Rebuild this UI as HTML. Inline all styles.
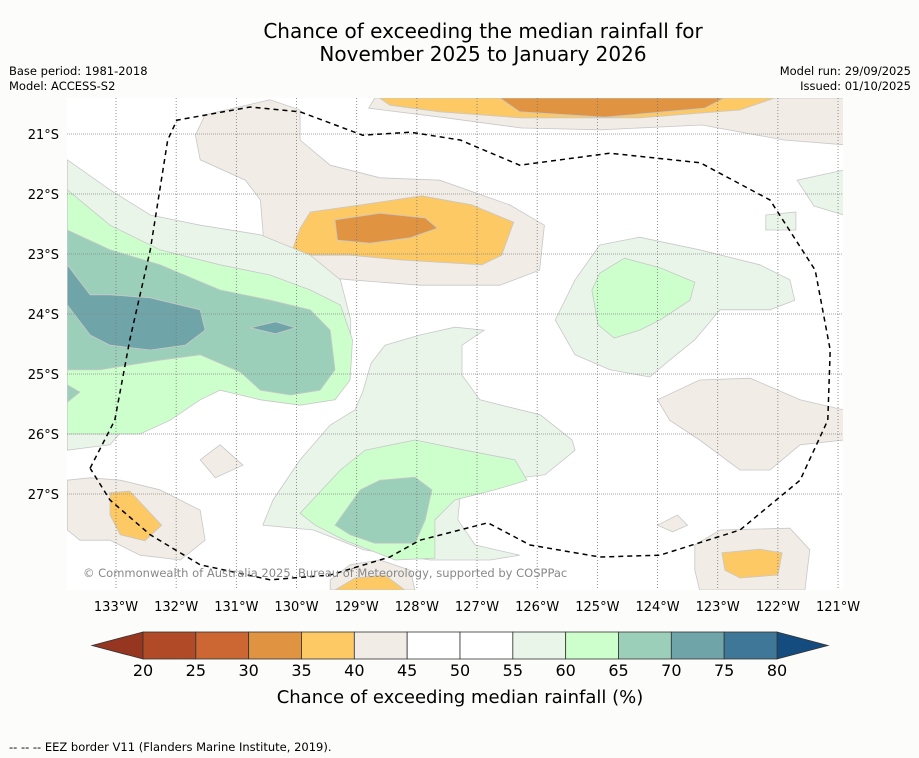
<!DOCTYPE html>
<html><head><meta charset="utf-8"><style>
body{margin:0;background:#fcfdfb;font-family:"DejaVu Sans",sans-serif;}
svg{display:block}
</style></head><body>
<svg id="chart" width="919" height="758" xmlns="http://www.w3.org/2000/svg" font-family="DejaVu Sans, sans-serif">
<rect width="919" height="758" fill="#fcfdfb"/>
<text x="483" y="38" font-size="20" text-anchor="middle">Chance of exceeding the median rainfall for</text>
<text x="483" y="61" font-size="20" text-anchor="middle">November 2025 to January 2026</text>
<text x="9" y="75" font-size="11.5">Base period: 1981-2018</text>
<text x="9" y="90" font-size="11.5">Model: ACCESS-S2</text>
<text x="911" y="75" font-size="11.5" text-anchor="end">Model run: 29/09/2025</text>
<text x="911" y="90" font-size="11.5" text-anchor="end">Issued: 01/10/2025</text>
<defs><clipPath id="mc"><rect x="67" y="98" width="776" height="492"/></clipPath></defs>
<rect x="67" y="98" width="776" height="492" fill="#ffffff"/>
<g id="contours" clip-path="url(#mc)"></g>
<g id="grid" clip-path="url(#mc)"></g>
<path id="eez" fill="none" stroke="#000" stroke-width="1.5" stroke-dasharray="5,4" clip-path="url(#mc)"/>
<text x="83" y="577" font-size="11.5" fill="#888">© Commonwealth of Australia 2025, Bureau of Meteorology, supported by COSPPac</text>
<g id="axes"></g>
<g id="colorbar"></g>
<text x="460" y="703" font-size="18" text-anchor="middle">Chance of exceeding median rainfall (%)</text>
<text x="9" y="751" font-size="11.5">--  --  -- EEZ border V11 (Flanders Marine Institute, 2019).</text>
</svg>
<script>
const lonTicks=[-133,-132,-131,-130,-129,-128,-127,-126,-125,-124,-123,-122,-121];
const latTicks=[-21,-22,-23,-24,-25,-26,-27];
const levels=[20,25,30,35,40,45,50,55,60,65,70,75,80];
const levelColors=["#b04a27","#cc6633","#e09442","#fdc964","#f1ece6","#ffffff","#ffffff","#eaf5ea","#ccffcc","#9ccfb9","#6fa4a8","#3e7797"];
const lowColor="#963520", highColor="#144c80";
// contour regions: [level band lower bound, [[lon,lat],...]]
const regionLevels=[40,35,30,40,35,30,55,55,55,55,55,60,60,60,65,65,70,70,65,40,40,35,40,35,40,35,40,40];
const regionShapes=[
[[-128.7,-20.4],[-120.9,-20.4],[-120.9,-21.18],[-121.9,-21.1],[-123.26,-20.85],[-124.93,-20.93],[-126.26,-20.9],[-127.6,-20.72],[-128.8,-20.57]],
[[-128.62,-20.4],[-122.05,-20.4],[-122.63,-20.6],[-124.3,-20.73],[-126.29,-20.73],[-127.62,-20.63],[-128.45,-20.52]],
[[-126.62,-20.4],[-122.89,-20.4],[-123.22,-20.57],[-124.88,-20.72],[-126.29,-20.63]],
[[-131.52,-20.68],[-130.44,-20.43],[-129.94,-20.6],[-129.94,-21.1],[-129.44,-21.52],[-128.61,-21.73],[-127.62,-21.77],[-126.46,-22.18],[-125.88,-22.52],[-125.96,-23.27],[-126.62,-23.52],[-127.95,-23.52],[-129.11,-23.43],[-129.94,-23.35],[-130.52,-23.1],[-130.6,-22.1],[-130.85,-21.77],[-131.6,-21.43],[-131.68,-21.02]],
[[-129.94,-22.57],[-129.77,-22.3],[-128.92,-22.18],[-127.92,-22.03],[-127.09,-22.18],[-126.39,-22.47],[-126.59,-23.02],[-126.92,-23.18],[-128.26,-23.1],[-129.11,-23.02],[-130.1,-23.02]],
[[-129.36,-22.43],[-128.61,-22.32],[-127.86,-22.4],[-127.66,-22.57],[-128.11,-22.73],[-128.78,-22.82],[-129.32,-22.77]],
[[-133.81,-21.43],[-133.1,-21.93],[-132.43,-22.35],[-131.6,-22.52],[-130.6,-22.68],[-129.77,-23.02],[-129.27,-23.43],[-129.1,-24.1],[-129.1,-24.93],[-129.36,-25.43],[-130.1,-25.47],[-130.93,-25.3],[-131.6,-25.1],[-132.27,-25.1],[-132.6,-25.6],[-133.1,-26.18],[-133.81,-26.27]],
[[-128.76,-24.82],[-128.53,-24.52],[-127.95,-24.35],[-127.37,-24.22],[-126.88,-24.27],[-127.25,-24.52],[-127.25,-25.02],[-126.95,-25.43],[-125.95,-25.68],[-125.42,-26.1],[-125.37,-26.27],[-125.87,-26.68],[-126.62,-26.77],[-127.28,-27.02],[-127.32,-27.43],[-127.03,-27.85],[-126.29,-28.02],[-126.78,-28.1],[-127.78,-28.1],[-128.88,-27.93],[-129.72,-27.6],[-130.56,-27.52],[-130.39,-27.1],[-129.94,-26.43],[-129.44,-25.85],[-129.03,-25.6],[-128.9,-25.3]],
[[-125.7,-24.1],[-125.37,-23.43],[-124.96,-22.85],[-124.3,-22.72],[-123.3,-22.93],[-122.3,-23.18],[-121.8,-23.43],[-121.72,-23.77],[-122.13,-23.93],[-122.96,-23.93],[-123.38,-24.43],[-123.8,-24.77],[-124.13,-25.05],[-124.79,-24.93],[-125.37,-24.68]],
[[-121.68,-21.77],[-120.9,-21.6],[-120.9,-22.35],[-121.4,-22.2]],
[[-122.2,-22.35],[-121.7,-22.3],[-121.7,-22.6],[-122.2,-22.6]],
[[-133.81,-21.93],[-133.1,-22.52],[-132.27,-22.93],[-131.27,-23.18],[-130.44,-23.35],[-129.77,-23.6],[-129.27,-23.85],[-129.07,-24.43],[-129.11,-25.1],[-129.36,-25.43],[-129.94,-25.52],[-130.6,-25.43],[-131.27,-25.27],[-131.6,-25.43],[-132.1,-25.77],[-132.6,-26.0],[-133.81,-26.0]],
[[-129.94,-27.32],[-129.27,-26.6],[-128.86,-26.27],[-128.03,-26.1],[-127.2,-26.27],[-126.37,-26.43],[-126.17,-26.77],[-126.7,-26.93],[-127.37,-27.1],[-127.7,-27.43],[-127.7,-28.07],[-128.36,-28.1],[-129.2,-27.77],[-129.69,-27.52]],
[[-125.09,-23.6],[-124.96,-23.32],[-124.55,-23.07],[-123.96,-23.23],[-123.38,-23.47],[-123.46,-23.77],[-123.96,-24.1],[-124.3,-24.27],[-124.72,-24.4],[-124.99,-24.18]],
[[-133.81,-22.6],[-133.1,-22.93],[-132.27,-23.18],[-131.27,-23.6],[-130.44,-23.77],[-129.77,-23.93],[-129.44,-24.27],[-129.36,-24.93],[-129.61,-25.27],[-130.1,-25.35],[-130.6,-25.27],[-130.93,-24.97],[-131.6,-24.68],[-132.27,-24.77],[-132.77,-24.85],[-133.27,-24.93],[-133.81,-24.93]],
[[-129.36,-27.52],[-128.94,-26.93],[-128.61,-26.77],[-128.03,-26.72],[-127.75,-26.93],[-127.86,-27.43],[-128.03,-27.82],[-128.7,-27.82],[-129.11,-27.68]],
[[-133.81,-23.18],[-133.43,-23.68],[-133.1,-23.68],[-132.43,-23.73],[-131.6,-23.93],[-131.52,-24.27],[-131.85,-24.52],[-132.43,-24.6],[-133.1,-24.52],[-133.43,-24.35],[-133.81,-23.85]],
[[-130.77,-24.23],[-130.35,-24.13],[-130.02,-24.23],[-130.35,-24.33]],
[[-133.81,-25.18],[-133.6,-25.3],[-133.81,-25.47]],
[[-124.0,-25.43],[-123.3,-25.1],[-122.46,-25.07],[-121.63,-25.43],[-120.9,-25.6],[-120.9,-26.1],[-121.63,-26.18],[-122.13,-26.6],[-122.63,-26.6],[-123.3,-26.1],[-123.8,-25.77]],
[[-123.38,-27.85],[-122.96,-27.6],[-121.8,-27.57],[-121.47,-27.93],[-121.55,-28.6],[-123.3,-28.6],[-123.38,-28.27]],
[[-122.93,-27.98],[-122.3,-27.92],[-121.93,-27.98],[-122.0,-28.35],[-122.63,-28.4],[-122.88,-28.27]],
[[-133.81,-26.77],[-133.43,-26.73],[-132.93,-26.77],[-132.27,-26.93],[-131.6,-27.27],[-131.52,-27.77],[-131.93,-28.1],[-132.6,-28.02],[-133.1,-27.77],[-133.6,-27.77],[-133.81,-27.6]],
[[-133.1,-26.98],[-132.77,-26.95],[-132.24,-27.52],[-132.52,-27.78],[-132.93,-27.68],[-133.1,-27.35]],
[[-129.44,-28.43],[-129.11,-28.18],[-128.61,-28.1],[-128.11,-28.27],[-128.03,-28.6],[-129.44,-28.6]],
[[-129.36,-28.6],[-129.03,-28.4],[-128.53,-28.35],[-128.2,-28.6]],
[[-131.6,-26.43],[-131.27,-26.18],[-130.89,-26.52],[-131.35,-26.73]],
[[-124.0,-27.52],[-123.67,-27.35],[-123.5,-27.52],[-123.75,-27.63]]
];
const eezLon=[-133.43,-133.02,-132.77,-132.43,-132.14,-131.99,-130.77,-129.94,-128.9,-128.11,-127.28,-126.29,-124.79,-123.29,-122.13,-121.38,-121.13,-121.17,-121.63,-122.63,-123.96,-124.96,-126.12,-126.82,-127.95,-128.45,-129.44,-130.44,-131.6,-132.43,-133.1,-133.43];
const eezLat=[-26.57,-25.77,-24.43,-22.93,-21.1,-20.77,-20.55,-20.63,-21.02,-20.97,-21.1,-21.52,-21.32,-21.48,-22.1,-23.27,-24.6,-25.77,-26.77,-27.6,-28.02,-28.05,-27.85,-27.48,-27.77,-28.05,-28.35,-28.43,-28.18,-27.68,-27.1,-26.57];

const NS="http://www.w3.org/2000/svg";
const xS=lon=>116+(lon+133)*60.17;
const yS=lat=>134+(-21-lat)*60;
const cbX=v=>143+(v-20)*(777-143)/60;
function mk(tag,attrs,parent){const e=document.createElementNS(NS,tag);for(const k in attrs)e.setAttribute(k,attrs[k]);parent.appendChild(e);return e;}
function colorFor(l){return levelColors[levels.indexOf(l)];}

const cg=document.getElementById('contours');
regionShapes.forEach((pts,i)=>{
  const d=pts.map(p=>xS(p[0]).toFixed(1)+','+yS(p[1]).toFixed(1)).join(' ');
  const el=mk('polygon',{points:d,fill:colorFor(regionLevels[i]),stroke:'#c8c8c8','stroke-width':0.8},cg);
  
  
});

const gg=document.getElementById('grid');
const ax=document.getElementById('axes');
lonTicks.forEach(l=>{
  const x=xS(l);
  const ln=mk('line',{x1:x,x2:x,y1:98,y2:590,stroke:'#777','stroke-width':0.8,'stroke-dasharray':'1,2'},gg);
  
  
  const t=mk('text',{x:x,y:611,'font-size':13,'text-anchor':'middle'},ax);
  t.textContent=(-l)+'°W';
  
  
});
latTicks.forEach(l=>{
  const y=yS(l);
  const ln=mk('line',{x1:67,x2:843,y1:y,y2:y,stroke:'#888','stroke-width':0.8,'stroke-dasharray':'1,1'},gg);
  
  
  const t=mk('text',{x:59,y:y+5,'font-size':13,'text-anchor':'end'},ax);
  t.textContent=(-l)+'°S';
  
  
});

document.getElementById('eez').setAttribute('d',eezLon.map((l,i)=>(i?'L':'M')+xS(l).toFixed(1)+','+yS(eezLat[i]).toFixed(1)).join(' '));

const cb=document.getElementById('colorbar');
const y0=632,y1=659;
const lt=mk('polygon',{points:`${cbX(20)},${y0} ${cbX(20)},${y1} 92,${(y0+y1)/2}`,fill:lowColor,stroke:'#333','stroke-width':0.8},cb);


const rt=mk('polygon',{points:`${cbX(80)},${y0} ${cbX(80)},${y1} 828,${(y0+y1)/2}`,fill:highColor,stroke:'#333','stroke-width':0.8},cb);


for(let i=0;i<levels.length-1;i++){
  const r=mk('rect',{x:cbX(levels[i]),y:y0,width:cbX(levels[i+1])-cbX(levels[i]),height:y1-y0,fill:levelColors[i],stroke:'#333','stroke-width':0.8},cb);
  
  
}
levels.forEach(v=>{
  const t=mk('text',{x:cbX(v),y:676,'font-size':16,'text-anchor':'middle'},cb);
  t.textContent=v;
  
  
});
</script>
</body></html>
